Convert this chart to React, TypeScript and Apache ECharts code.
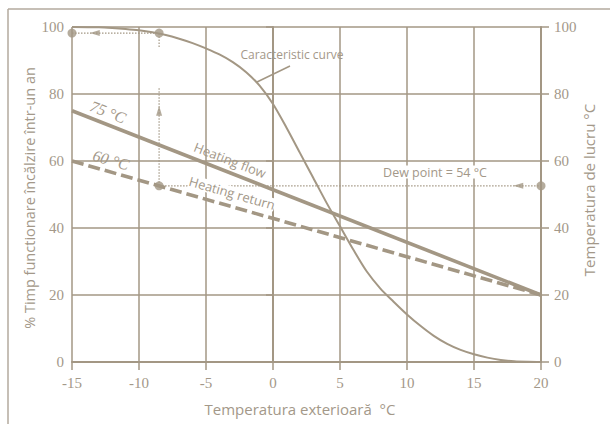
import React, { useEffect, useRef } from "react";
import * as echarts from "echarts";

const xTicks = [-15, -10, -5, 0, 5, 10, 15, 20];
const flowLine = [[-15, 75], [20, 20]];
const returnLine = [[-15, 60], [20, 20]];
const curveX = [-15, -13, -12, -11, -10, -9, -8, -7, -6, -5, -4, -3, -2, -1, 0, 1, 2, 3, 4, 5, 6, 7, 8, 9, 10, 11, 12, 13, 14, 15, 16, 17, 18, 19, 20];
const curveY = [100, 99.9, 99.7, 99.4, 99, 98.4, 97.6, 96.5, 95.2, 93.6, 91.8, 89.5, 86.5, 82.5, 77, 70, 62.5, 55, 47.5, 40.5, 33.5, 27, 22, 18, 14.2, 10.8, 7.8, 5.4, 3.6, 2.3, 1.3, 0.6, 0.2, 0.05, 0];
const dotPoints = [[-15, 98.2], [-8.5, 98.2], [-8.5, 52.6], [20, 52.6]];
const topGuide = [[-15, 98.2], [-8.5, 98.2]];
const upGuide = [[-8.5, 52.6], [-8.5, 82]];
const upGuideTop = [[-8.5, 94], [-8.5, 98.2]];
const dewGuide = [[-8.5, 52.6], [20, 52.6]];
const leftArrows = [[-13.3, 98.2], [18.3, 52.6]];
const upArrows = [[-8.5, 75]];

const LINE = "#a39784";
const TEXT = "#a39889";
const SERIF = "Liberation Serif";
const SANS = "Open Sans";

export default function App() {
  const ref = useRef<HTMLDivElement>(null);
  useEffect(() => {
    if (!ref.current) return;
    const chart = echarts.init(ref.current, null, { renderer: "svg" });
    const dotted = (data: number[][]) => ({
      type: "line",
      data,
      symbol: "none",
      silent: true,
      lineStyle: { color: LINE, width: 1.2, type: [1.5, 1.5] },
      z: 3,
    });
    const curve = curveX.map((x, i) => [x, curveY[i]]);
    chart.setOption({
      animation: false,
      backgroundColor: "#ffffff",
      grid: { left: 72, right: 69, top: 27, bottom: 65 },
      xAxis: {
        type: "value",
        min: -15,
        max: 20,
        interval: 5,
        axisLine: { show: true, onZero: false, lineStyle: { color: LINE, width: 2 } },
        axisTick: { show: true, length: 8, lineStyle: { color: LINE, width: 1.5 } },
        axisLabel: {
          color: TEXT, fontFamily: SERIF, fontSize: 15, margin: 13,
          customValues: xTicks,
        },
        splitLine: { show: true, lineStyle: { color: LINE, width: 1.5 } },
      },
      yAxis: [
        {
          type: "value",
          min: 0,
          max: 100,
          interval: 20,
          axisLine: { show: true, lineStyle: { color: LINE, width: 2 } },
          axisTick: { show: true, length: 7, lineStyle: { color: LINE, width: 1.5 } },
          axisLabel: { color: TEXT, fontFamily: SERIF, fontSize: 15, margin: 8 },
          splitLine: { show: true, lineStyle: { color: LINE, width: 1.5 } },
        },
        {
          type: "value",
          position: "right",
          min: 0,
          max: 100,
          interval: 20,
          axisLine: { show: true, lineStyle: { color: LINE, width: 2 } },
          axisTick: { show: true, length: 8, lineStyle: { color: LINE, width: 1.5 } },
          axisLabel: { color: TEXT, fontFamily: SERIF, fontSize: 15, margin: 13 },
          splitLine: { show: false },
        },
      ],
      series: [
        {
          type: "line",
          data: curve,
          smooth: 0.3,
          symbol: "none",
          lineStyle: { color: LINE, width: 2 },
          z: 4,
        },
        {
          type: "line",
          data: flowLine,
          symbol: "none",
          lineStyle: { color: LINE, width: 3.6 },
          z: 5,
        },
        {
          type: "line",
          data: returnLine,
          symbol: "none",
          lineStyle: { color: LINE, width: 3.6, type: [12, 5] },
          z: 5,
        },
        dotted(topGuide),
        dotted(upGuide),
        dotted(upGuideTop),
        dotted(dewGuide),
        {
          type: "scatter",
          data: dotPoints,
          symbol: "circle",
          symbolSize: 9,
          itemStyle: { color: LINE },
          z: 6,
        },
        {
          type: "scatter",
          data: leftArrows,
          symbol: "triangle",
          symbolSize: [6, 10],
          symbolRotate: 90,
          itemStyle: { color: LINE },
          z: 6,
        },
        {
          type: "scatter",
          data: upArrows,
          symbol: "triangle",
          symbolSize: [6, 10],
          itemStyle: { color: LINE },
          z: 6,
        },
      ],
      graphic: [
        { type: "line", shape: { x1: 8, y1: 9, x2: 610, y2: 9 }, style: { stroke: "#b3aa9e", lineWidth: 1.5 } },
        { type: "line", shape: { x1: 8, y1: 9, x2: 8, y2: 424 }, style: { stroke: "#b3aa9e", lineWidth: 1.5 } },
        { type: "line", shape: { x1: 257, y1: 82, x2: 290, y2: 66 }, style: { stroke: LINE, lineWidth: 1.5 } },
        {
          type: "text", x: 292, y: 54,
          style: { text: "Caracteristic curve", fill: TEXT, fontFamily: SANS, fontSize: 12, align: "center", verticalAlign: "middle" },
        },
        {
          type: "text", x: 435, y: 172,
          style: { text: "Dew point = 54 °C", fill: TEXT, fontFamily: SANS, fontSize: 12.5, align: "center", verticalAlign: "middle", backgroundColor: "#ffffff" },
          z: 10,
        },
        {
          type: "text", x: 108, y: 112, rotation: -0.37,
          style: { text: "75 °C", fill: TEXT, fontFamily: SERIF, fontStyle: "italic", fontSize: 16, align: "center", verticalAlign: "middle" },
        },
        {
          type: "text", x: 111, y: 160, rotation: -0.28,
          style: { text: "60 °C", fill: TEXT, fontFamily: SERIF, fontStyle: "italic", fontSize: 16, align: "center", verticalAlign: "middle" },
        },
        {
          type: "text", x: 230, y: 160, rotation: -0.37,
          style: { text: "Heating flow", fill: TEXT, fontFamily: SANS, fontSize: 13, align: "center", verticalAlign: "middle" },
        },
        {
          type: "text", x: 232, y: 193, rotation: -0.28,
          style: { text: "Heating return", fill: TEXT, fontFamily: SANS, fontSize: 13, align: "center", verticalAlign: "middle", backgroundColor: "#ffffff" },
          z: 10,
        },
        {
          type: "text", x: 29, y: 198, rotation: Math.PI / 2,
          style: { text: "% Timp functionare încălzire într-un an", fill: TEXT, fontFamily: SANS, fontSize: 14.5, align: "center", verticalAlign: "middle" },
        },
        {
          type: "text", x: 589, y: 190, rotation: Math.PI / 2,
          style: { text: "Temperatura de lucru °C", fill: TEXT, fontFamily: SANS, fontSize: 15, align: "center", verticalAlign: "middle" },
        },
        {
          type: "text", x: 300, y: 409,
          style: { text: "Temperatura exterioară  °C", fill: TEXT, fontFamily: SANS, fontSize: 15, align: "center", verticalAlign: "middle" },
        },
      ],
    });
    return () => chart.dispose();
  }, []);
  return <div ref={ref} style={{ width: 610, height: 427, position: "absolute", left: 0, top: 0 }} />;
}
